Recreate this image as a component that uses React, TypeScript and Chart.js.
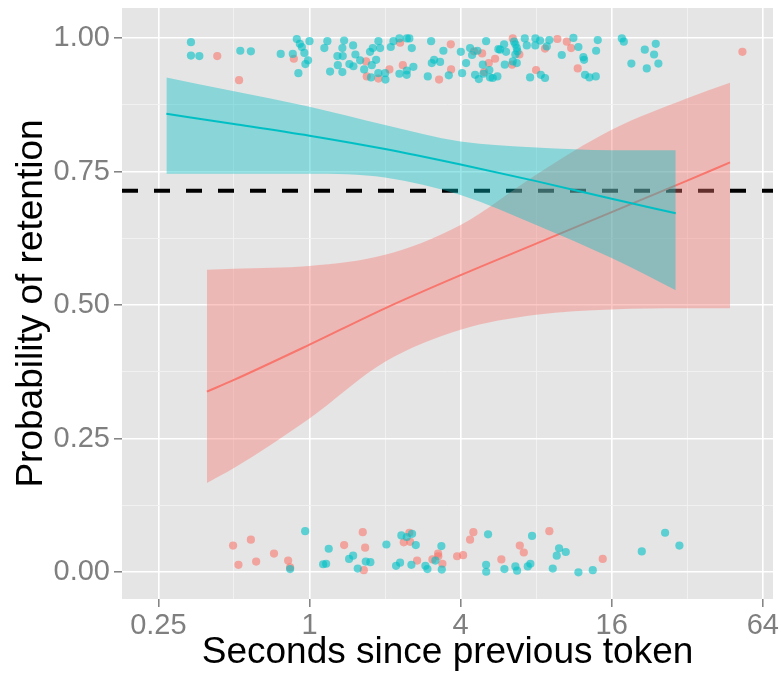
import React, { useEffect, useRef } from "react";
import { Chart, registerables } from "chart.js";
Chart.register(...registerables);

const FONT = "'Liberation Sans', Arial, Helvetica, sans-serif";

// x grid values (seconds, log2 spaced) and labels of the major ones
const xGridValues = [0.25, 0.5, 1, 2, 4, 8, 16, 32, 64];
const xMajorLabels: Record<string, string> = { "0.25": "0.25", "1": "1", "4": "4", "16": "16", "64": "64" };
const yGridValues = [0, 0.125, 0.25, 0.375, 0.5, 0.625, 0.75, 0.875, 1];
const yMajorValues = [0, 0.25, 0.5, 0.75, 1];

const xMin = 0.179;
const xMax = 70.3;
const yMin = -0.05;
const yMax = 1.056;

const hlineY = 0.714;

// fitted curves and confidence bands
const tealFitX = [0.269, 0.5, 1, 2, 4, 8, 16, 28.8];
const tealFit = [0.858, 0.839, 0.817, 0.792, 0.763, 0.732, 0.699, 0.672];
const tealUpper = [0.926, 0.9, 0.871, 0.837, 0.806, 0.795, 0.79, 0.79];
const tealLower = [0.746, 0.746, 0.746, 0.739, 0.706, 0.65, 0.588, 0.528];

const redFitX = [0.39, 0.5, 1, 2, 4, 8, 16, 32, 47.4];
const redFit = [0.338, 0.36, 0.426, 0.494, 0.556, 0.615, 0.674, 0.733, 0.767];
const redUpper = [0.566, 0.568, 0.573, 0.594, 0.65, 0.744, 0.828, 0.887, 0.916];
const redLower = [0.167, 0.195, 0.288, 0.394, 0.454, 0.482, 0.492, 0.494, 0.494];

// jittered observations [seconds, retention]
const tealPoints: [number, number][] = [
  [0.337, 0.992], [0.337, 0.967], [0.364, 0.966], [0.53, 0.976], [0.584, 0.975], [0.768, 0.97], [0.858, 0.97],
  [0.89, 0.998], [0.915, 0.989], [0.932, 0.983], [0.954, 0.972], [0.963, 0.951], [0.987, 0.958], [1.0, 0.994],
  [0.903, 0.934], [1.146, 0.981], [1.178, 0.994], [1.208, 0.937], [1.292, 0.966], [1.297, 0.949], [1.352, 0.981],
  [1.374, 0.995], [1.357, 0.966], [1.352, 0.936], [1.442, 0.951], [1.492, 0.986], [1.496, 0.947], [1.524, 0.969],
  [1.591, 0.958], [1.651, 0.941], [1.743, 0.974], [1.787, 0.981], [1.882, 0.994], [1.911, 0.981], [1.771, 0.949],
  [1.843, 0.959], [1.88, 0.934], [1.759, 0.926], [2.001, 0.934], [2.007, 0.922], [2.108, 0.983], [2.16, 0.994],
  [2.282, 0.999], [2.442, 0.999], [2.5, 0.999], [2.556, 0.981], [2.282, 0.933], [2.442, 0.939], [2.44, 0.931],
  [2.594, 0.946], [2.961, 0.928], [3.052, 0.994], [3.071, 0.953], [3.137, 0.959], [3.315, 0.955], [3.416, 0.976],
  [3.59, 0.93], [4.008, 0.974], [4.056, 0.934], [4.207, 0.953], [4.364, 0.981], [4.445, 0.968], [4.666, 0.976],
  [4.569, 0.931], [4.728, 0.923], [4.904, 0.95], [4.931, 0.933], [5.055, 0.994], [5.209, 0.94], [5.242, 0.926],
  [5.374, 0.925], [5.606, 0.928], [5.657, 0.979], [5.747, 0.978], [5.962, 0.988], [6.072, 0.974], [6.0, 0.95],
  [6.535, 0.993], [6.613, 0.988], [6.699, 0.981], [6.736, 0.975], [6.61, 0.969], [6.457, 0.956], [6.7, 0.953],
  [7.209, 0.999], [7.343, 0.986], [7.945, 0.999], [7.94, 0.986], [8.295, 0.995], [7.568, 0.926], [8.35, 0.931],
  [8.68, 0.925], [8.82, 0.984], [9.03, 0.996], [10.12, 0.968], [11.26, 1.0], [11.79, 0.983], [14.08, 0.996],
  [13.87, 0.976], [12.34, 0.964], [12.42, 0.959], [12.53, 0.931], [13.04, 0.926], [13.83, 0.928], [17.56, 0.999],
  [17.88, 0.993], [23.98, 0.989], [21.68, 0.978], [23.61, 0.969], [19.17, 0.952], [24.56, 0.952], [22.08, 0.943],
  [0.837, 0.006], [0.961, 0.077], [1.193, 0.044], [1.133, 0.015], [1.165, 0.016], [1.438, 0.025], [1.492, 0.031],
  [1.557, 0.007], [1.676, 0.02], [1.748, 0.019], [2.025, 0.052], [2.213, 0.012], [2.296, 0.018], [2.323, 0.069],
  [2.442, 0.066], [2.563, 0.072], [2.652, 0.051], [2.547, 0.014], [2.896, 0.012], [2.95, 0.006], [3.174, 0.022],
  [3.354, 0.049], [3.366, 0.005], [5.147, 0.071], [5.055, 0.014], [5.06, 0.001], [5.979, 0.006], [6.613, 0.011],
  [6.717, 0.003], [7.409, 0.011], [7.589, 0.016], [7.707, 0.068], [9.318, 0.007], [9.666, 0.031], [9.874, 0.045],
  [10.5, 0.038], [11.79, 0.0], [13.45, 0.004], [21.09, 0.039], [26.12, 0.074], [29.78, 0.05],
];

const redPoints: [number, number][] = [
  [0.429, 0.966], [0.524, 0.921], [0.866, 0.961], [1.681, 0.956], [1.691, 0.928], [1.882, 0.924], [2.082, 0.941],
  [2.296, 0.991], [2.354, 0.949], [3.284, 0.922], [3.656, 0.988], [3.666, 0.941], [4.528, 0.975], [4.873, 0.971],
  [4.962, 0.936], [5.18, 0.953], [5.49, 0.961], [6.457, 0.999], [6.86, 0.969], [6.417, 0.95], [7.995, 0.94],
  [8.68, 0.98], [9.72, 0.998], [10.6, 0.993], [11.03, 0.981], [11.72, 0.943], [53.1, 0.974],
  [0.496, 0.05], [0.584, 0.061], [0.521, 0.014], [0.613, 0.02], [0.722, 0.035], [0.822, 0.022], [0.837, 0.009],
  [1.374, 0.051], [1.63, 0.075], [1.666, 0.046], [1.646, 0.004], [2.5, 0.074], [2.375, 0.056], [2.517, 0.057],
  [2.684, 0.022], [3.089, 0.024], [3.254, 0.035], [3.26, 0.03], [3.385, 0.016], [3.874, 0.03], [4.093, 0.032],
  [4.364, 0.061], [4.498, 0.075], [5.815, 0.024], [6.886, 0.05], [7.144, 0.037], [9.032, 0.077], [14.74, 0.025],
];

const TEAL = "rgb(0,191,196)";
const RED = "rgb(248,118,109)";

const xy = (xs: number[], ys: number[]) => xs.map((x, i) => ({ x, y: ys[i] }));
const isMajorX = (v: number) => Math.abs(Math.round(Math.log2(v))) % 2 === 0;
const isMajorY = (v: number) => yMajorValues.some((m) => Math.abs(m - v) < 1e-9);

export default function App() {
  const ref = useRef<HTMLCanvasElement>(null);
  useEffect(() => {
    if (!ref.current) return;
    const bgPlugin = {
      id: "panelBg",
      beforeDraw(chart: any) {
        const { ctx, chartArea: a } = chart;
        ctx.save();
        ctx.fillStyle = "#E5E5E5";
        ctx.fillRect(a.left, a.top, a.right - a.left, a.bottom - a.top);
        ctx.restore();
      },
    };
    const lineBase = { pointRadius: 0, pointHoverRadius: 0, cubicInterpolationMode: "monotone" as const };
    const chart = new Chart(ref.current, {
      type: "line",
      data: {
        datasets: [
          {
            data: tealPoints.map(([x, y]) => ({ x, y })),
            showLine: false,
            pointRadius: 4.1,
            pointBorderWidth: 0,
            pointBackgroundColor: "rgba(0,191,196,0.6)",
            pointBorderColor: "rgba(0,0,0,0)",
            order: 0,
          },
          {
            data: redPoints.map(([x, y]) => ({ x, y })),
            showLine: false,
            pointRadius: 4.1,
            pointBorderWidth: 0,
            pointBackgroundColor: "rgba(248,118,109,0.6)",
            pointBorderColor: "rgba(0,0,0,0)",
            order: 1,
          },
          { ...lineBase, data: xy(tealFitX, tealFit), borderColor: TEAL, borderWidth: 2, fill: false, order: 2 },
          {
            ...lineBase,
            data: xy(tealFitX, tealUpper),
            borderWidth: 0,
            borderColor: "rgba(0,0,0,0)",
            backgroundColor: "rgba(0,191,196,0.4)",
            fill: "+1",
            order: 3,
          },
          { ...lineBase, data: xy(tealFitX, tealLower), borderWidth: 0, borderColor: "rgba(0,0,0,0)", fill: false, order: 4 },
          { ...lineBase, data: xy(redFitX, redFit), borderColor: RED, borderWidth: 2, fill: false, order: 5 },
          {
            ...lineBase,
            data: xy(redFitX, redUpper),
            borderWidth: 0,
            borderColor: "rgba(0,0,0,0)",
            backgroundColor: "rgba(248,118,109,0.4)",
            fill: "+1",
            order: 6,
          },
          { ...lineBase, data: xy(redFitX, redLower), borderWidth: 0, borderColor: "rgba(0,0,0,0)", fill: false, order: 7 },
          {
            pointRadius: 0,
            data: [
              { x: xMin, y: hlineY },
              { x: xMax, y: hlineY },
            ],
            borderColor: "#000000",
            borderWidth: 4,
            borderDash: [16, 16],
            fill: false,
            order: 8,
          },
        ],
      },
      options: {
        animation: false,
        responsive: false,
        events: [],
        layout: { padding: { top: 8, right: 8, left: 0, bottom: 0 } },
        plugins: { legend: { display: false }, tooltip: { enabled: false } },
        scales: {
          x: {
            type: "logarithmic",
            min: xMin,
            max: xMax,
            afterBuildTicks: (scale: any) => {
              scale.ticks = xGridValues.map((v) => ({ value: v }));
            },
            afterFit: (scale: any) => {
              scale.height = 76;
              scale.paddingLeft = 0;
              scale.paddingRight = 0;
            },
            ticks: {
              autoSkip: false,
              maxRotation: 0,
              minRotation: 0,
              padding: 2,
              color: "#7F7F7F",
              font: { family: FONT, size: 29 },
              callback: (v: any) => xMajorLabels[String(v)] ?? "",
            },
            grid: {
              color: (c: any) => (c.tick && isMajorX(c.tick.value) ? "#FFFFFF" : "#F2F2F2"),
              lineWidth: (c: any) => (c.tick && isMajorX(c.tick.value) ? 1.6 : 0.9),
              tickColor: (c: any) => (c.tick && isMajorX(c.tick.value) ? "#7F7F7F" : "rgba(0,0,0,0)"),
              tickWidth: 1.5,
              tickLength: 8,
              drawTicks: true,
            },
            border: { display: false },
            title: {
              display: true,
              text: "Seconds since previous token",
              color: "#000000",
              font: { family: FONT, size: 37 },
              padding: { top: 5, bottom: 0 },
            },
          },
          y: {
            type: "linear",
            min: yMin,
            max: yMax,
            afterBuildTicks: (scale: any) => {
              scale.ticks = yGridValues.map((v) => ({ value: v }));
            },
            afterFit: (scale: any) => {
              scale.width = 122;
              scale.paddingTop = 0;
              scale.paddingBottom = 0;
            },
            ticks: {
              autoSkip: false,
              padding: 4,
              color: "#7F7F7F",
              font: { family: FONT, size: 29 },
              callback: (v: any) => (isMajorY(Number(v)) ? Number(v).toFixed(2) : ""),
            },
            grid: {
              color: (c: any) => (c.tick && isMajorY(c.tick.value) ? "#FFFFFF" : "#F2F2F2"),
              lineWidth: (c: any) => (c.tick && isMajorY(c.tick.value) ? 1.6 : 0.9),
              tickColor: (c: any) => (c.tick && isMajorY(c.tick.value) ? "#7F7F7F" : "rgba(0,0,0,0)"),
              tickWidth: 1.5,
              tickLength: 8,
              drawTicks: true,
            },
            border: { display: false },
            title: {
              display: true,
              text: "Probability of retention",
              color: "#000000",
              font: { family: FONT, size: 37 },
              padding: { top: 10, bottom: 0 },
            },
          },
        },
      },
      plugins: [bgPlugin],
    } as any);
    return () => chart.destroy();
  }, []);
  return (
    <div style={{ position: "absolute", left: 0, top: 0, width: 781, height: 675 }}>
      <canvas ref={ref} width={781} height={675} style={{ display: "block" }} />
    </div>
  );
}
